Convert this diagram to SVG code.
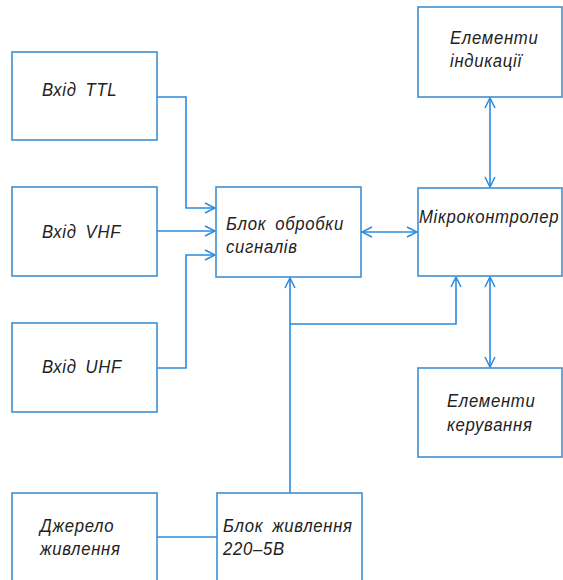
<svg xmlns="http://www.w3.org/2000/svg" width="563" height="580" viewBox="0 0 563 580">
<defs>
<style>
.box{fill:#fff;stroke:#3f8fd0;stroke-width:1.6}
.ln{fill:none;stroke:#2a8ae0;stroke-width:1.6}
.t{font-family:"Liberation Sans","DejaVu Sans",sans-serif;font-style:italic;font-size:19px;fill:#222;letter-spacing:0.8px;word-spacing:4px}
</style>
<marker id="ah" viewBox="0 0 12 12" refX="11" refY="6" markerWidth="12" markerHeight="12" markerUnits="userSpaceOnUse" orient="auto-start-reverse">
<path d="M1,1 L11,6 L1,11" fill="none" stroke="#2a8ae0" stroke-width="1.5"/>
</marker>
</defs>
<rect width="563" height="580" fill="#fff"/>
<g id="connectors">
<polyline class="ln" points="157,97 186,97 186,208 215,208" marker-end="url(#ah)"/>
<line class="ln" x1="157" y1="231" x2="215" y2="231" marker-end="url(#ah)"/>
<polyline class="ln" points="157,368 186,368 186,255 215,255" marker-end="url(#ah)"/>
<line class="ln" x1="362" y1="232" x2="417" y2="232" marker-start="url(#ah)" marker-end="url(#ah)"/>
<line class="ln" x1="490" y1="98" x2="490" y2="187" marker-start="url(#ah)" marker-end="url(#ah)"/>
<line class="ln" x1="490" y1="277" x2="490" y2="367" marker-start="url(#ah)" marker-end="url(#ah)"/>
<line class="ln" x1="290" y1="493" x2="290" y2="278" marker-end="url(#ah)"/>
<polyline class="ln" points="290,324 456,324 456,277" marker-end="url(#ah)"/>
<line class="ln" x1="157" y1="537" x2="217" y2="537"/>
</g>
<g id="ttl"><rect class="box" x="12" y="52" width="145" height="88"/><text class="t" transform="matrix(0.88 0 0 1 42 96)">Вхід TTL</text></g>
<g id="vhf"><rect class="box" x="12" y="187" width="145" height="89"/><text class="t" transform="matrix(0.88 0 0 1 42 238)">Вхід VHF</text></g>
<g id="uhf"><rect class="box" x="12" y="323" width="145" height="89"/><text class="t" transform="matrix(0.88 0 0 1 42 373)">Вхід UHF</text></g>
<g id="proc"><rect class="box" x="216" y="187" width="145" height="90"/><text class="t" transform="matrix(0.88 0 0 1 226 230)">Блок обробки</text><text class="t" transform="matrix(0.88 0 0 1 226 253)">сигналів</text></g>
<g id="mcu"><rect class="box" x="418" y="188" width="144" height="88"/><text class="t" transform="matrix(0.88 0 0 1 419 223)">Мікроконтролер</text></g>
<g id="ind"><rect class="box" x="418" y="7" width="144" height="90"/><text class="t" transform="matrix(0.88 0 0 1 450 44)">Елементи</text><text class="t" transform="matrix(0.88 0 0 1 450 67)">індикації</text></g>
<g id="ctl"><rect class="box" x="418" y="368" width="144" height="89"/><text class="t" transform="matrix(0.88 0 0 1 447 407)">Елементи</text><text class="t" transform="matrix(0.88 0 0 1 447 431)">керування</text></g>
<g id="src"><rect class="box" x="12" y="493" width="145" height="100"/><text class="t" transform="matrix(0.88 0 0 1 40 532)">Джерело</text><text class="t" transform="matrix(0.88 0 0 1 40 555)">живлення</text></g>
<g id="psu"><rect class="box" x="217" y="493" width="145" height="100"/><text class="t" transform="matrix(0.88 0 0 1 223 532)">Блок живлення</text><text class="t" transform="matrix(0.88 0 0 1 223 555)">220–5В</text></g>
</svg>
